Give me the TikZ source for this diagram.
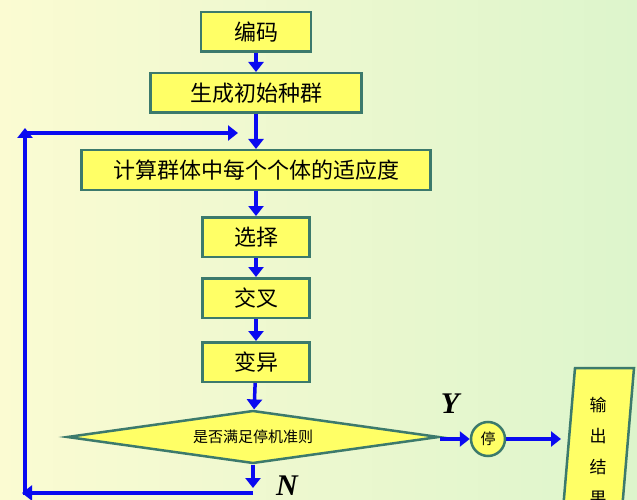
\documentclass[tikz,border=0pt]{standalone}
\usepackage{fontspec}
\setmainfont{Noto Sans CJK SC}
\newfontfamily\ynfont{Liberation Serif}
\usetikzlibrary{arrows.meta, positioning, shapes.geometric}
\definecolor{boxfill}{HTML}{FFFF66}
\definecolor{boxline}{HTML}{3C7A6C}
\definecolor{flow}{HTML}{0A0AF0}
\definecolor{bgleft}{HTML}{FBFBD2}
\definecolor{bgright}{HTML}{DDF5CC}

\begin{document}
\begin{tikzpicture}[
	x=1pt, y=-1pt,
	every node/.style={font=\fontsize{22}{22}\selectfont},
	stage/.style={draw=boxline, fill=boxfill, line width=2.5pt, minimum height=39.5pt, inner sep=0pt},
	test/.style={draw=boxline, fill=boxfill, line width=2.5pt, diamond, aspect=6.8, minimum width=372pt, minimum height=53pt, inner sep=0pt, font=\fontsize{15}{15}\selectfont},
	stop/.style={draw=boxline, fill=boxfill, line width=2.5pt, circle, minimum size=34pt, inner sep=0pt, font=\fontsize{15}{15}\selectfont},
	arrow/.style={-{Triangle[length=10pt, width=15pt]}, line width=3.5pt, draw=flow},
	yn/.style={font=\fontsize{30}{30}\selectfont\bfseries\itshape\ynfont}
	]
	
	% background
	\clip (0,0) rectangle (637,500);
	\shade[left color=bgleft, right color=bgright] (0,0) rectangle (637,500);
	
	% main chain
	\node[stage, minimum width=110pt] (code) at (256,32) {编码};
	\node[stage, minimum width=211pt, below=19pt of code] (init) {生成初始种群};
	\node[stage, minimum width=349pt, below=35pt of init] (fit) {计算群体中每个个体的适应度};
	\node[stage, minimum width=107pt, below=25pt of fit] (sel) {选择};
	\node[stage, minimum width=107pt, below=19pt of sel] (cross) {交叉};
	\node[stage, minimum width=107pt, below=22pt of cross] (mut) {变异};
	\node[test] (check) at (253,437) {是否满足停机准则};
	\node[stop] (halt) at (488,439) {停};
	
	% output box
	\draw[boxline, fill=boxfill, line width=2.5pt] (575,368) -- (634,368) -- (622,510) -- (563,510) -- cycle;
	\node[align=center, font=\fontsize{17}{31}\selectfont] (out) at (598,452) {输\\出\\结\\果};
	\coordinate (outin) at (halt -| 561,0);
	
	% loop corners
	\coordinate (nend) at (check.south |- 0,488);
	\coordinate (lowleft) at (22,493);
	\coordinate (upleft) at (25,128);
	\coordinate (join) at (238,133);
	
	% connections
	\draw[arrow] (code) -- (init);
	\draw[arrow] (init) -- (fit);
	\draw[arrow] (fit) -- (sel);
	\draw[arrow] (sel) -- (cross);
	\draw[arrow] (cross) -- (mut);
	\draw[arrow] (mut) -- (check);
	\draw[arrow] (check.east |- halt) -- (halt);
	\draw[arrow] (halt) -- (outin);
	\draw[arrow] (check.south) -- (nend);
	\draw[arrow] (check.south |- lowleft) -- (lowleft);
	\draw[arrow] (25,495) -- (upleft);
	\draw[arrow] (23.25,133) -- (join);
	
	% branch labels
	\node[yn] (yes) at (450,404) {Y};
	\node[yn] (no) at (287,486) {N};
	
\end{tikzpicture}
\end{document}
